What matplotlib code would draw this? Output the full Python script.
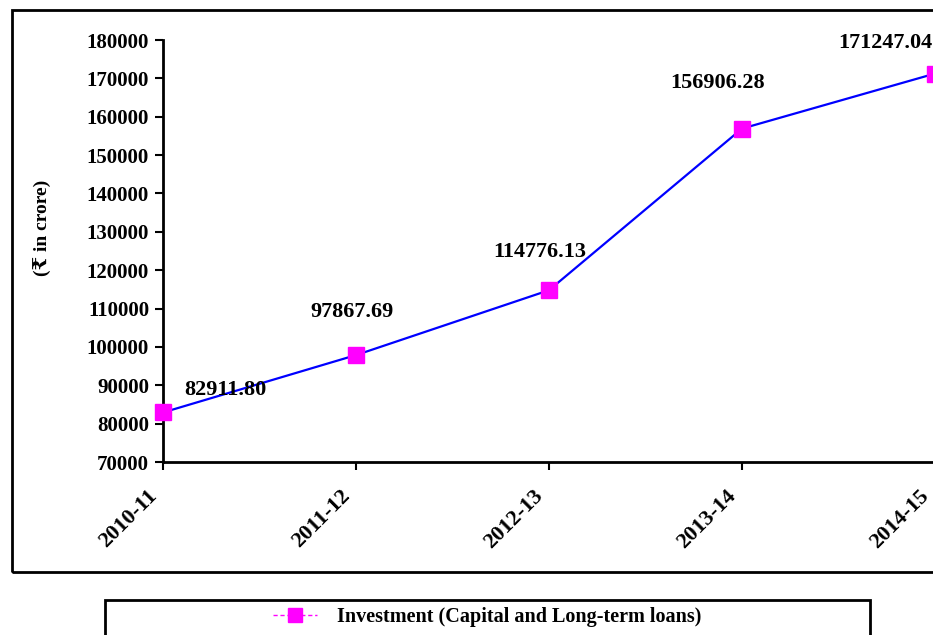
"""Investment (capital and long-term loans) trend chart."""

import matplotlib
matplotlib.use("Agg")
import matplotlib.pyplot as plt
import matplotlib.transforms as mtransforms
from matplotlib.lines import Line2D
from matplotlib.patches import Rectangle

years = ["2010-11", "2011-12", "2012-13", "2013-14", "2014-15"]
investment = [82911.80, 97867.69, 114776.13, 156906.28, 171247.04]
y_ticks = list(range(70000, 180001, 10000))
series_name = "Investment (Capital and Long-term loans)"

# label offsets in pixels (relative to each point)
label_offsets = [(62, 22), (-4, 43), (-9, 38), (-24, 46), (-50, 31)]

W, H = 933, 635
SERIF = ["Liberation Serif", "DejaVu Serif", "DejaVu Sans"]
plt.rcParams["font.family"] = SERIF
plt.rcParams["font.weight"] = "bold"

fig = plt.figure(figsize=(W / 100, H / 100), dpi=100)

# outer chart frame
fig.patches.append(Rectangle((12 / W, 1 - 572 / H), 1.2, (572 - 10) / H,
                             transform=fig.transFigure, fill=False,
                             edgecolor="black", linewidth=2, zorder=0))

ax = fig.add_axes([163 / W, 1 - 462 / H, 772 / W, (462 - 40) / H])
x = list(range(len(years)))
ax.plot(x, investment, color="#0000ff", linewidth=1.6, marker="s",
        markersize=11, markerfacecolor="#ff00ff", markeredgecolor="#ff00ff",
        clip_on=False, zorder=3)

for xi, val, (dx, dy) in zip(x, investment, label_offsets):
    ax.annotate(f"{val:.2f}", (xi, val), xytext=(dx, dy), textcoords="offset pixels",
                ha="center", va="center", fontsize=16, fontweight="bold",
                annotation_clip=False)

ax.set_xlim(0, len(years) - 1)
ax.set_ylim(70000, 180000)
ax.set_yticks(y_ticks)
ax.set_yticklabels([str(v) for v in y_ticks], fontsize=15, fontweight="bold")
ax.set_xticks(x)
ax.set_xticklabels(years, fontsize=16, fontweight="bold", rotation=45,
                   ha="right", va="center", rotation_mode="anchor")
ax.tick_params(axis="both", direction="out", length=6, width=1.5, pad=4)
ax.tick_params(axis="x", pad=16)

# nudge rotated year labels so they end just left of their ticks
shift = mtransforms.ScaledTranslation(-9 / 100, 0, fig.dpi_scale_trans)
for lbl in ax.get_xticklabels():
    lbl.set_transform(lbl.get_transform() + shift)

for side in ["top", "right"]:
    ax.spines[side].set_visible(False)
for side in ["left", "bottom"]:
    ax.spines[side].set_linewidth(2)

fig.text(43 / W, 1 - 228 / H, "(₹ in crore)", rotation=90, ha="center", va="center",
         fontsize=14, fontweight="bold", family=SERIF)

# legend box
fig.patches.append(Rectangle((105 / W, 1 - 640 / H), (870 - 105) / W, 40 / H,
                             transform=fig.transFigure, fill=False,
                             edgecolor="black", linewidth=2))
handle = Line2D([], [], color="#ff00ff", linestyle="--", linewidth=1, marker="s",
                markersize=10, markerfacecolor="#ff00ff", markeredgecolor="#ff00ff",
                dashes=(3, 2))
fig.legend([handle], [series_name], loc="center", bbox_to_anchor=(487 / W, 1 - 617 / H),
           frameon=False, prop={"size": 14.5, "weight": "bold"},
           handlelength=2.2, handletextpad=1.0)

fig.savefig("out.png", dpi=100)
